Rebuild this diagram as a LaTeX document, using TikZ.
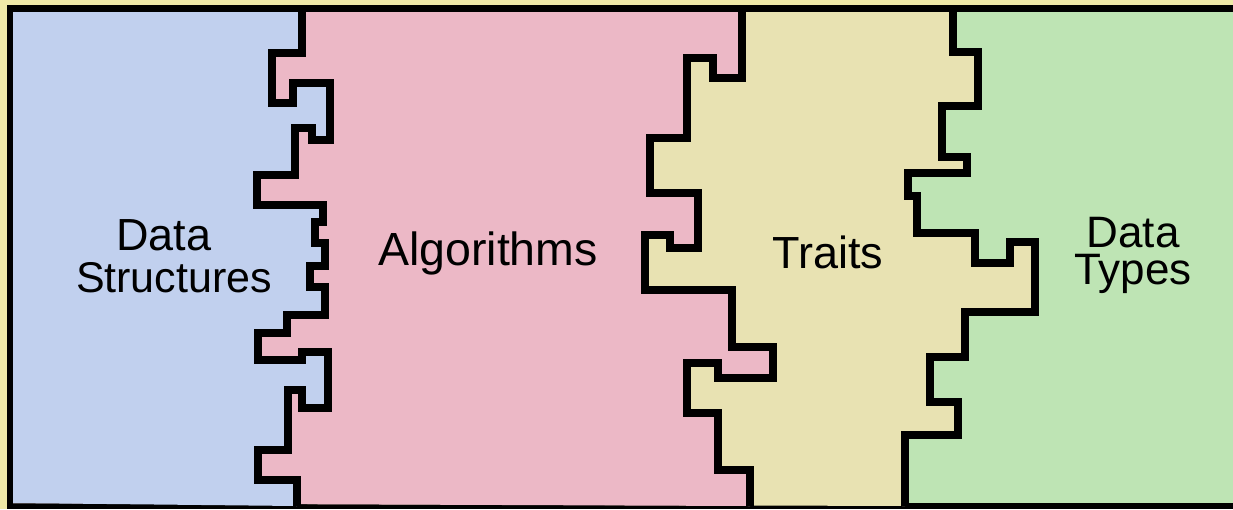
\documentclass[tikz,border=0pt]{standalone}
\usepackage{fontspec}
\setmainfont{Liberation Sans}
\definecolor{framebg}{RGB}{239,233,168}
\definecolor{dsblue}{RGB}{193,208,238}
\definecolor{algpink}{RGB}{236,184,198}
\definecolor{trtyellow}{RGB}{232,226,178}
\definecolor{dtgreen}{RGB}{190,228,180}
\tikzset{
  lbl/.style={anchor=base, inner sep=0pt, font=\fontsize{45}{45}\selectfont},
  seam/.style={line width=8pt, line join=miter, draw=black},
  % stepped seam between Data Structures and Algorithms
  seamA/.style={insert path={
    -- (302,53) -- (272,53) -- (272,103) -- (293,103) -- (293,83) -- (330,83)
    -- (330,140) -- (312,140) -- (312,128) -- (295,128) -- (295,175) -- (257,175)
    -- (257,205) -- (323,205) -- (323,222) -- (315,222) -- (315,243) -- (325,243)
    -- (325,266) -- (310,266) -- (310,287) -- (325,287) -- (325,315) -- (287,315)
    -- (287,333) -- (258,333) -- (258,360) -- (302,360) -- (302,352) -- (328,352)
    -- (328,408) -- (302,408) -- (302,390) -- (288,390) -- (288,450) -- (258,450)
    -- (258,480) -- (297,480) -- (297,506)}},
  % stepped seam between Algorithms and Traits
  seamB/.style={insert path={
    -- (742,78) -- (713,78) -- (713,58) -- (687,58) -- (687,138) -- (650,138)
    -- (650,193) -- (698,193) -- (698,248) -- (670,248) -- (670,235) -- (645,235)
    -- (645,290) -- (732,290) -- (732,347) -- (773,347) -- (773,378) -- (718,378)
    -- (718,363) -- (687,363) -- (687,413) -- (718,413) -- (718,470) -- (750,470)
    -- (750,506)}},
  % stepped seam between Traits and Data Types
  seamC/.style={insert path={
    -- (953,52) -- (978,52) -- (978,106) -- (942,106) -- (942,157) -- (967,157)
    -- (967,173) -- (908,173) -- (908,196) -- (917,196) -- (917,233) -- (975,233)
    -- (975,263) -- (1010,263) -- (1010,242) -- (1035,242) -- (1035,312) -- (965,312)
    -- (965,357) -- (930,357) -- (930,402) -- (958,402) -- (958,435) -- (905,435)
    -- (905,506)}},
}
\begin{document}
\begin{tikzpicture}[x=1pt,y=-1pt]
\useasboundingbox (0,0) rectangle (1233,509);
% outer band and black frame
\fill[framebg] (0,0) rectangle (1233,509);
\fill[black] (7,5) rectangle (1233,509);
% coloured regions, filled from the right so each seam clips the next
\fill[dtgreen] (13,12) rectangle (1233,503);
\fill[trtyellow] (13,503) -- (13,12) -- (953,12) [seamC] -- cycle;
\fill[algpink] (13,503) -- (13,12) -- (742,12) [seamB] -- cycle;
\fill[dsblue] (13,503) -- (13,12) -- (302,12) [seamA] -- cycle;
% seams
\draw[seam] (302,8) [seamA];
\draw[seam] (742,8) [seamB];
\draw[seam] (953,8) [seamC];
% labels
\node[lbl] (ds1) at (164,250) {Data};
\node[lbl, font=\fontsize{43}{43}\selectfont] (ds2) at (174,292) {Structures};
\node[lbl, font=\fontsize{46.5}{46}\selectfont] (alg) at (488,265) {Algorithms};
\node[lbl] (trt) at (828,268) {Traits};
\node[lbl, align=center, font=\fontsize{44}{37}\selectfont] (dt) at (1133,284) {Data\\Types};
\end{tikzpicture}
\end{document}
